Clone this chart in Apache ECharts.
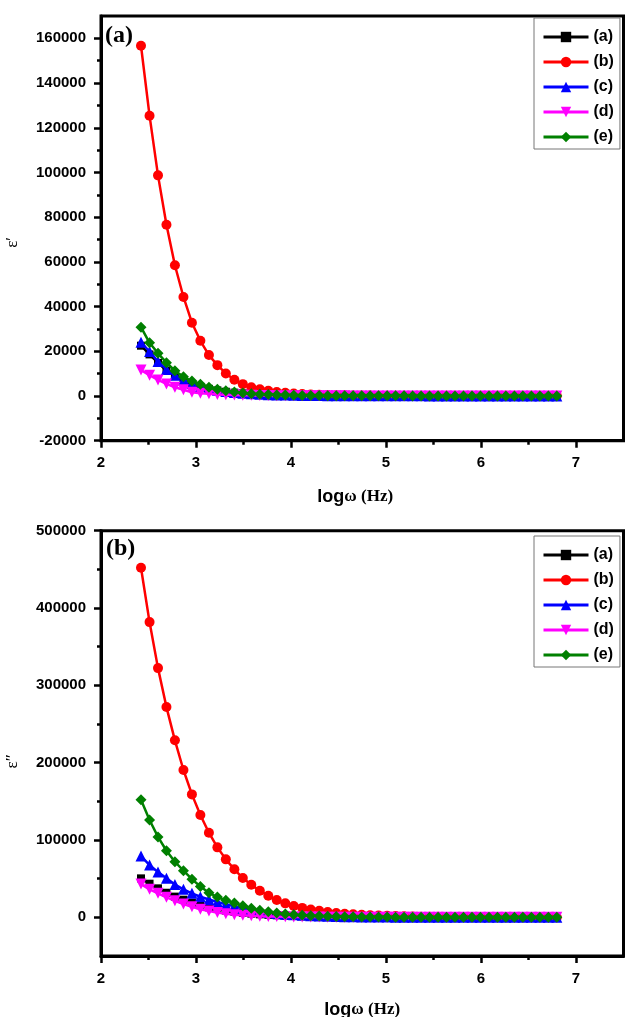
<!DOCTYPE html>
<html><head><meta charset="utf-8">
<script src="https://cdn.jsdelivr.net/npm/echarts@6/dist/echarts.min.js"></script>
<style>html,body{margin:0;padding:0;background:#fff}#c{width:625px;height:1017px}</style>
</head><body><div id="c"></div>
<script>
// ---- data ----
const logOmega = [2.421,2.511,2.600,2.689,2.778,2.868,2.957,3.046,3.136,3.225,
  3.314,3.404,3.493,3.582,3.672,3.761,3.850,3.940,4.029,4.118,
  4.208,4.297,4.386,4.476,4.565,4.654,4.744,4.833,4.922,5.012,
  5.101,5.190,5.280,5.369,5.458,5.548,5.637,5.726,5.816,5.905,
  5.994,6.084,6.173,6.262,6.352,6.441,6.530,6.620,6.709,6.798];
const seriesNames = ['(a)','(b)','(c)','(d)','(e)'];

// ε′ (top panel)
const epsReal_a = [22500,18600,14800,11400,8900,6900,5300,4100,3200,2500,1900,1500,1200,950,750,600,480,390,320,260,220,180,150,130,110,95,85,75,68,62,57,53,50,47,45,43,41,40,39,38,37,36,35,35,34,34,33,33,32,32];
const epsReal_b = [156700,125400,98700,76600,58500,44300,32800,24700,18300,13800,10100,7300,5300,3900,3000,2300,1800,1400,1100,850,680,550,450,370,310,260,220,190,165,145,130,118,108,100,93,87,82,78,74,71,68,66,64,62,60,59,58,57,56,55];
const epsReal_c = [24000,19900,15400,11900,9300,7200,5600,4300,3300,2600,2000,1550,1200,950,750,600,480,390,320,265,220,185,155,135,117,103,92,83,76,70,65,61,58,55,53,51,49,48,47,46,45,44,43,43,42,42,41,41,40,40];
const epsReal_d = [11600,9300,7200,5400,3900,2800,1700,1250,950,720,560,440,350,280,230,190,160,135,115,100,88,78,70,63,58,53,49,46,43,41,39,37,36,35,34,33,32,31,31,30,30,29,29,29,28,28,28,28,27,27];
const epsReal_e = [30800,23800,19100,14900,11300,8600,6700,5300,3900,3000,2300,1750,1350,1050,820,640,500,400,320,260,215,180,150,128,110,96,85,76,69,63,58,54,51,48,46,44,42,41,40,39,38,37,37,36,36,35,35,35,34,34];

// ε″ (bottom panel)
const epsImag_a = [50400,43500,37500,31800,26800,22800,19000,15800,13000,10700,8800,7200,5900,4800,3900,3200,2600,2100,1700,1400,1150,940,770,630,520,430,355,295,245,205,172,145,123,105,90,78,68,60,53,47,42,38,35,32,30,28,26,25,24,23];
const epsImag_b = [452000,381800,322300,271900,228900,190500,159000,132300,109400,90500,75000,62100,50800,42200,34400,27900,22400,18100,14600,12200,10100,8400,7000,5700,4700,3900,3300,2750,2300,1900,1580,1300,1080,890,740,610,500,420,350,290,245,210,180,155,135,118,104,92,82,74];
const epsImag_c = [79300,67600,58500,50400,42500,36200,31000,26600,23000,19800,17000,14200,11800,9700,7900,6400,5100,4100,3300,2600,2050,1600,1250,980,770,610,490,400,330,275,230,195,167,145,127,112,100,90,82,75,70,65,61,58,55,53,51,49,48,47];
const epsImag_d = [43000,36200,31000,25900,21500,17200,13700,10500,8100,6100,4500,3400,2600,2000,1550,1200,940,740,590,470,380,310,255,210,175,148,126,108,94,82,72,64,58,52,47,43,40,37,35,33,31,30,29,28,27,26,25,25,24,24];
const epsImag_e = [152000,125800,104000,86100,71900,60300,49300,40000,31800,26200,22000,18400,15000,11800,9300,7300,5700,4400,3400,2700,2100,1650,1300,1030,820,660,540,450,375,315,265,225,192,166,146,130,117,106,97,90,84,79,75,71,68,65,63,61,59,58];

const xTicks = [2,3,4,5,6,7];
const xMinorTicks = [2.5,3.5,4.5,5.5,6.5];
const yTicksTop = [-20000,0,20000,40000,60000,80000,100000,120000,140000,160000];
const yMinorTicksTop = [-10000,10000,30000,50000,70000,90000,110000,130000,150000];
const yTicksBottom = [0,100000,200000,300000,400000,500000];
const yMinorTicksBottom = [50000,150000,250000,350000,450000];

// ---- styling ----
const colors = ['#000000','#ff0000','#0000ff','#ff00ff','#008000'];
const symbols = ['rect','circle','triangle','triangle','diamond'];
const symRot = [0,0,0,180,0];
const symSize = [8,10,11,11,11];
const SANS = '"Liberation Sans", Arial, sans-serif';
const SERIF = '"Liberation Serif", "Times New Roman", serif';

const chart = echarts.init(document.getElementById('c'), null, {renderer:'canvas'});
const plain = v => String(v);

function mainX(grid){
  return {
    gridIndex: grid, type:'value', min:2, max:7.5, position:'bottom',
    axisLine:{show:true, onZero:false, lineStyle:{color:'#000', width:3}},
    axisTick:{show:true, customValues:xTicks, length:7, lineStyle:{color:'#000', width:2.5}},
    axisLabel:{customValues:xTicks, formatter:plain, margin:15, color:'#000', fontFamily:SANS, fontWeight:'bold', fontSize:15},
    splitLine:{show:false},
    name:'{l|log}{w|ω (Hz)}', nameLocation:'middle', nameGap: grid===0 ? 47 : 45,
    nameTextStyle:{padding:[0, grid===0 ? 14 : 0, 0, 0], rich:{
      l:{fontFamily:SANS, fontWeight:'bold', fontSize:18, color:'#000'},
      w:{fontFamily:SERIF, fontWeight:'bold', fontSize:17, color:'#000'}
    }}
  };
}
function minorX(grid){
  return {
    gridIndex: grid, type:'value', min:2, max:7.5, position:'bottom',
    axisLine:{show:false, onZero:false},
    axisTick:{show:true, customValues:xMinorTicks, length:4, lineStyle:{color:'#000', width:2.5}},
    axisLabel:{show:false}, splitLine:{show:false}
  };
}
function mainY(grid, min, max, ticks, name, shift){
  return {
    gridIndex: grid, type:'value', min:min, max:max, position:'left',
    axisLine:{show:true, onZero:false, lineStyle:{color:'#000', width:3}},
    axisTick:{show:true, customValues:ticks, length:7, lineStyle:{color:'#000', width:2.5}},
    axisLabel:{customValues:ticks, formatter:plain, margin:15, color:'#000', fontFamily:SANS, fontWeight:'bold', fontSize:15},
    splitLine:{show:false},
    name:name, nameLocation:'middle', nameGap:80, nameRotate:90,
    nameTextStyle:{fontFamily:SERIF, fontSize:17, color:'#000', padding:[0, shift, 0, 0]}
  };
}
function minorY(grid, min, max, ticks){
  return {
    gridIndex: grid, type:'value', min:min, max:max, position:'left',
    axisLine:{show:false, onZero:false},
    axisTick:{show:true, customValues:ticks, length:4, lineStyle:{color:'#000', width:2.5}},
    axisLabel:{show:false}, splitLine:{show:false}
  };
}

function makeSeries(dataArrays, xi, yi){
  return dataArrays.map((arr, k) => ({
    name: seriesNames[k], type:'line', xAxisIndex:xi, yAxisIndex:yi,
    data: logOmega.map((x, i) => [x, arr[i]]),
    symbol: symbols[k], symbolRotate: symRot[k], symbolSize: symSize[k],
    showAllSymbol:true,
    lineStyle:{color:colors[k], width:2.5},
    itemStyle:{color:colors[k]},
    z: 2 + k
  }));
}

function makeLegend(top){
  return {
    left:534, top:top, orient:'vertical',
    itemWidth:45, itemHeight:13, itemGap:9,
    padding:[11,6,4,8],
    borderColor:'#777', borderWidth:1, backgroundColor:'#fff',
    lineStyle:{width:3},
    textStyle:{fontFamily:SANS, fontWeight:'bold', fontSize:16, color:'#000', lineHeight:15.5},
    data: seriesNames
  };
}

const option = {
  animation:false,
  backgroundColor:'#fff',
  grid:[
    {left:101, top:16, width:522.5, height:424.7, outerBoundsMode:'none', containLabel:false, show:true, borderColor:'#000', borderWidth:3, backgroundColor:'transparent'},
    {left:101, top:530.7, width:522.5, height:425.3, outerBoundsMode:'none', containLabel:false, show:true, borderColor:'#000', borderWidth:3, backgroundColor:'transparent'}
  ],
  xAxis:[mainX(0), minorX(0), mainX(1), minorX(1)],
  yAxis:[
    mainY(0, -20000, 170000, yTicksTop, 'ε′', 28),
    minorY(0, -20000, 170000, yMinorTicksTop),
    mainY(1, -50000, 500000, yTicksBottom, 'ε″', 36),
    minorY(1, -50000, 500000, yMinorTicksBottom)
  ],
  legend:[makeLegend(18), makeLegend(536)],
  graphic:[
    {type:'text', left:105, top:24, style:{text:'(a)', font:'bold 24px '+SERIF, fill:'#000'}},
    {type:'text', left:106, top:537, style:{text:'(b)', font:'bold 24px '+SERIF, fill:'#000'}}
  ],
  series:[
    ...makeSeries([epsReal_a, epsReal_b, epsReal_c, epsReal_d, epsReal_e], 0, 0),
    ...makeSeries([epsImag_a, epsImag_b, epsImag_c, epsImag_d, epsImag_e], 2, 2)
  ]
};
chart.setOption(option);
</script>
</body></html>
